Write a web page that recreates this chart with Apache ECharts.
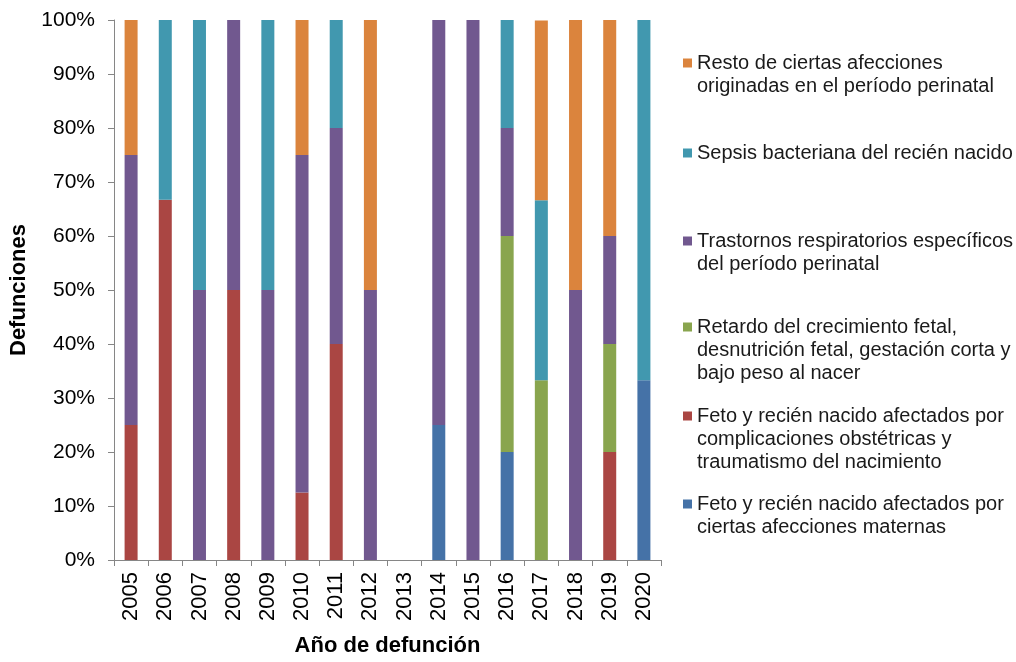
<!DOCTYPE html>
<html>
<head>
<meta charset="utf-8">
<script src="https://cdn.jsdelivr.net/npm/echarts@6/dist/echarts.min.js"></script>
<style>
html,body{margin:0;padding:0;background:#fff;}
#chart{width:1016px;height:662px;}
</style>
</head>
<body>
<div id="chart"></div>
<script>
const years = ['2005','2006','2007','2008','2009','2010','2011','2012','2013','2014','2015','2016','2017','2018','2019','2020'];
const yTicks = [0,10,20,30,40,50,60,70,80,90,100];

const nameMaternas = 'Feto y recién nacido afectados por\nciertas afecciones maternas';
const nameComplic = 'Feto y recién nacido afectados por\ncomplicaciones obstétricas y\ntraumatismo del nacimiento';
const nameRetardo = 'Retardo del crecimiento fetal,\ndesnutrición fetal, gestación corta y\nbajo peso al nacer';
const nameRespir = 'Trastornos respiratorios específicos\ndel período perinatal';
const nameSepsis = 'Sepsis bacteriana del recién nacido';
const nameResto = 'Resto de ciertas afecciones\noriginadas en el período perinatal';

//                 2005 2006 2007 2008 2009 2010 2011 2012 2013 2014 2015 2016 2017 2018 2019 2020
const maternas = [   0,   0,   0,   0,   0,   0,   0,   0,   0,  25,   0,  20,   0,   0,   0, 33.3];
const complic  = [  25,66.7,   0,  50,   0,12.5,  40,   0,   0,   0,   0,   0,   0,   0,  20,    0];
const retardo  = [   0,   0,   0,   0,   0,   0,   0,   0,   0,   0,   0,  40,33.3,   0,  20,    0];
const respir   = [  50,   0,  50,  50,  50,62.5,  40,  50,   0,  75, 100,  20,   0,  50,  20,    0];
const sepsis   = [   0,33.3,  50,   0,  50,   0,  20,   0,   0,   0,   0,  20,33.3,   0,   0, 66.7];
const resto    = [  25,   0,   0,   0,   0,  25,   0,  50,   0,   0,   0,   0,33.3,  50,  40,    0];

const FONT = '"Liberation Sans", Arial, sans-serif';
const seriesDefs = [
  {name: nameMaternas, data: maternas, color: '#4572A7', legendTop: 494},
  {name: nameComplic,  data: complic,  color: '#AA4643', legendTop: 406},
  {name: nameRetardo,  data: retardo,  color: '#89A54E', legendTop: 317},
  {name: nameRespir,   data: respir,   color: '#71588F', legendTop: 231},
  {name: nameSepsis,   data: sepsis,   color: '#4198AF', legendTop: 143},
  {name: nameResto,    data: resto,    color: '#DB843D', legendTop: 53}
];

const legends = seriesDefs.map(function(s){
  return {
    data: [{name: s.name, icon: 'none'}],
    orient: 'vertical',
    left: 678,
    top: s.legendTop,
    padding: 0,
    itemWidth: 0,
    itemHeight: 0,
    selectedMode: false,
    formatter: function(n){
      const lines = n.split('\n');
      return lines.map(function(l, i){
        return (i === 0 ? '{sq|}' : '{ind|}') + '{t|' + l + '}';
      }).join('\n');
    },
    textStyle: {
      rich: {
        sq: {width: 9, height: 9, backgroundColor: s.color, verticalAlign: 'middle'},
        ind: {width: 9, height: 9},
        t: {fontFamily: FONT, fontSize: 20, color: '#1a1a1a', lineHeight: 23, padding: [0,0,0,5]}
      }
    }
  };
});

const chart = echarts.init(document.getElementById('chart'), null, {renderer: 'canvas'});
chart.setOption({
  backgroundColor: '#ffffff',
  animation: false,
  legend: legends,
  grid: {left: 114, right: 355, top: 20, bottom: 93, containLabel: false},
  xAxis: {
    type: 'category',
    data: years,
    boundaryGap: true,
    name: 'Año de defunción',
    nameLocation: 'middle',
    nameGap: 75,
    nameTextStyle: {fontFamily: FONT, fontSize: 22, fontWeight: 'bold', color: '#000'},
    axisLine: {show: true, lineStyle: {color: '#868686', width: 1}},
    axisTick: {show: true, length: 6, lineStyle: {color: '#868686'}},
    axisLabel: {rotate: 90, fontFamily: FONT, fontSize: 22, color: '#000', margin: 12, interval: 0}
  },
  yAxis: {
    type: 'value',
    min: 0, max: 100, interval: 10,
    name: 'Defunciones',
    nameLocation: 'middle',
    nameGap: 82,
    nameRotate: 90,
    nameTextStyle: {fontFamily: FONT, fontSize: 22, fontWeight: 'bold', color: '#000'},
    axisLine: {show: true, lineStyle: {color: '#868686', width: 1}},
    axisTick: {show: true, length: 6, lineStyle: {color: '#868686'}},
    splitLine: {show: false},
    axisLabel: {fontFamily: FONT, fontSize: 21, color: '#000', margin: 19,
      formatter: function(v){ return yTicks.indexOf(v) >= 0 ? v + '%' : ''; }}
  },
  series: seriesDefs.map(function(s){
    return {
      name: s.name,
      type: 'bar',
      stack: 'total',
      data: s.data,
      barWidth: 13,
      itemStyle: {color: s.color},
      emphasis: {disabled: true}
    };
  })
});
</script>
</body>
</html>
